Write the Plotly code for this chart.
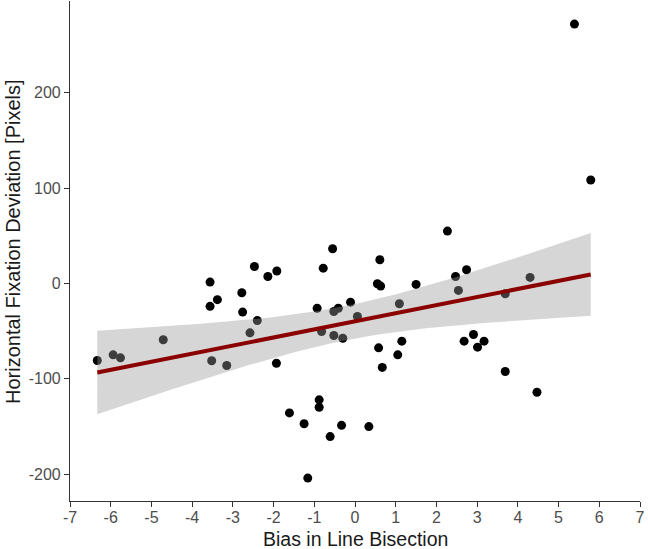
import numpy as np
import plotly.graph_objects as go

bias = [-6.33, -5.94, -5.76, -4.71, -3.56, -3.56, -3.38, -3.52, -3.15, -2.78,
        -2.76, -2.47, -2.40, -2.58, -2.14, -1.92, -1.93, -1.61, -1.25, -1.16,
        -0.88, -0.88, -0.61, -0.33, -0.93, -0.78, -0.55, -0.82, -0.52, -0.41,
        -0.52, -0.30, -0.11, 0.06, 0.34, 0.61, 0.55, 0.63, 0.58, 0.67,
        1.09, 1.15, 1.05, 1.50, 2.47, 2.74, 2.54, 2.68, 2.91, 3.01,
        3.17, 3.69, 3.69, 4.30, 4.47, 5.39, 5.79, 2.27]
deviation = [-80.8, -74.8, -78, -59, 1.4, -24, -17, -81, -86, -9.8,
             -30, 17.8, -38.8, -51.8, 7.3, 13, -83.6, -135.7, -147, -204,
             -122, -129.8, -160.5, -148.7, -26, 16, 36.4, -50.4, -29.4, -26,
             -54.6, -57.4, -19.6, -34.6, -150, 24.8, -0.3, -2.8, -67.5, -88,
             -21.3, -60.5, -74.8, -1, 7.3, 14.3, -7.3, -60.5, -53.5, -66.8,
             -60.5, -92.3, -10.8, 6.3, -114, 271.8, 108.4, 54.9]

x_ticks = list(range(-7, 8))
y_ticks = [-200, -100, 0, 100, 200]

# linear model fit with 95% confidence band (as geom_smooth(method="lm"))
x = np.array(bias)
y = np.array(deviation)
n = len(x)
slope, intercept = np.polyfit(x, y, 1)
resid = y - (intercept + slope * x)
s = np.sqrt(np.sum(resid ** 2) / (n - 2))
xg = np.linspace(x.min(), x.max(), 80)
yg = intercept + slope * xg
t_crit = 2.003
se = s * np.sqrt(1.0 / n + (xg - x.mean()) ** 2 / np.sum((x - x.mean()) ** 2))
upper = yg + t_crit * se
lower = yg - t_crit * se

fig = go.Figure()
fig.add_trace(go.Scatter(x=bias, y=deviation, mode="markers",
                         marker=dict(color="black", size=9), showlegend=False,
                         hoverinfo="skip"))
fig.add_trace(go.Scatter(x=np.concatenate([xg, xg[::-1]]),
                         y=np.concatenate([upper, lower[::-1]]),
                         fill="toself", fillcolor="rgba(153,153,153,0.4)",
                         line=dict(width=0), mode="lines", showlegend=False,
                         hoverinfo="skip"))
fig.add_trace(go.Scatter(x=xg, y=yg, mode="lines",
                         line=dict(color="#8B0000", width=4), showlegend=False))

font_family = "Liberation Sans, Arial"
axis_common = dict(showgrid=False, zeroline=False, showline=True, automargin=False,
                   linecolor="#333333", linewidth=1.2, ticks="outside",
                   ticklen=5, tickwidth=1.2, tickcolor="#333333",
                   tickfont=dict(family=font_family, size=16, color="#4D4D4D"))

fig.update_layout(
    width=648, height=549,
    margin=dict(l=70, r=8, t=1, b=48),
    plot_bgcolor="white", paper_bgcolor="white",
    xaxis=dict(range=[-7, 7], tickvals=x_ticks, ticktext=[str(v) for v in x_ticks],
               ticklabelstandoff=-3, **axis_common),
    yaxis=dict(range=[-228, 296], tickvals=y_ticks, ticktext=[str(v) for v in y_ticks],
               **axis_common),
    annotations=[
        dict(text="Bias in Line Bisection", xref="paper", yref="paper",
             x=0.5, y=0, yshift=-38, xanchor="center", yanchor="middle",
             showarrow=False, font=dict(family=font_family, size=19.5, color="#1a1a1a")),
        dict(text="Horizontal Fixation Deviation [Pixels]", xref="paper", yref="paper",
             x=0, y=0.518, xshift=-57, xanchor="center", yanchor="middle", textangle=-90,
             showarrow=False, font=dict(family=font_family, size=20, color="#1a1a1a")),
    ],
)

fig.write_html("out.html", config={"displayModeBar": False},
               post_script="document.body.style.margin='0';document.body.style.padding='0';")
